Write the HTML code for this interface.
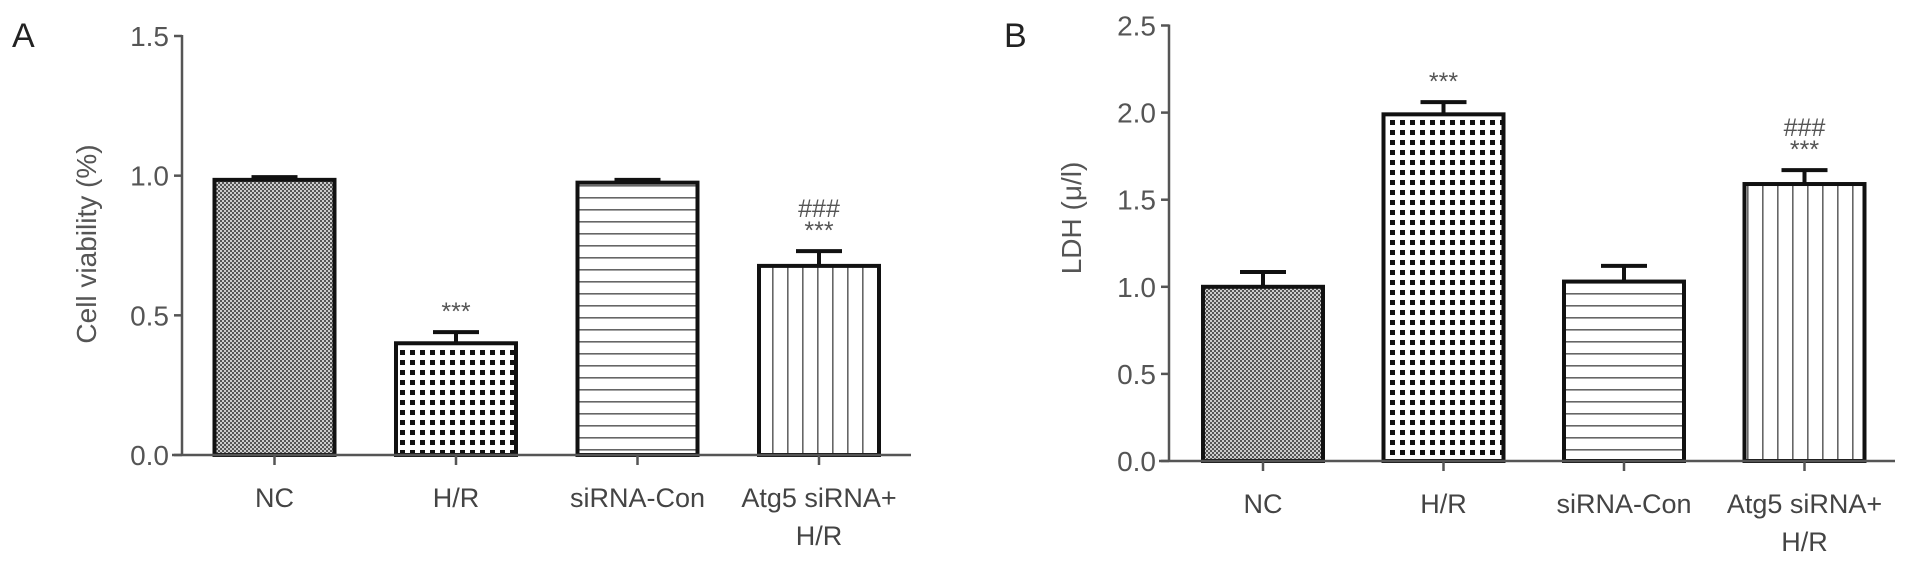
<!DOCTYPE html>
<html><head><meta charset="utf-8"><style>
html,body{margin:0;padding:0;background:#fff;}
svg{display:block;font-family:"Liberation Sans",sans-serif;}
.tick{font-size:28px;fill:#555;}
.xl{font-size:27px;fill:#444;}
.star{font-size:25px;fill:#555;}
</style></head><body>
<svg id="chart" width="1913" height="567" viewBox="0 0 1913 567">
<defs>
<pattern id="pNC" width="4" height="4" patternUnits="userSpaceOnUse"><rect width="4" height="4" fill="#ccc"/><rect width="2" height="2" fill="#555"/><rect x="2" y="2" width="2" height="2" fill="#555"/></pattern>
<pattern id="pHR" width="10" height="10" patternUnits="userSpaceOnUse"><rect width="10" height="10" fill="#fff"/><rect width="5" height="5" fill="#111"/></pattern>
<pattern id="pSI" width="10" height="12" patternUnits="userSpaceOnUse"><rect width="10" height="12" fill="#fff"/><rect y="5" width="10" height="1.6" fill="#666"/></pattern>
<pattern id="pAT" width="15" height="10" patternUnits="userSpaceOnUse"><rect width="15" height="10" fill="#fff"/><rect x="7" width="1.6" height="10" fill="#666"/></pattern>
</defs>
</svg>
<script>
const categories = ["NC","H/R","siRNA-Con","Atg5 siRNA+\nH/R"];
const viabilityValues = [0.985, 0.40, 0.975, 0.677];
const viabilityErrors = [0.01, 0.04, 0.01, 0.053];
const viabilityMarks = ["", "***", "", "###\n***"];
const viabilityTicks = ["0.0","0.5","1.0","1.5"];
const ldhValues = [1.0, 1.99, 1.03, 1.59];
const ldhErrors = [0.085, 0.07, 0.09, 0.08];
const ldhMarks = ["", "***", "", "###\n***"];
const ldhTicks = ["0.0","0.5","1.0","1.5","2.0","2.5"];

const NS = "http://www.w3.org/2000/svg";
const svg = document.getElementById('chart');
const fills = ["url(#pNC)","url(#pHR)","url(#pSI)","url(#pAT)"];
function mk(tag, attrs, parent){const e=document.createElementNS(NS,tag);for(const k in attrs)e.setAttribute(k,attrs[k]);(parent||svg).appendChild(e);return e;}

function panel(cfg){
  const g = mk('g',{});
  
  
  const y = v => cfg.y0 - (v/cfg.vmax)*(cfg.y0-cfg.ytop);
  const x = i => cfg.xc0 + i*cfg.step;
  const L = mk('text',{x:cfg.letterX,y:47,'font-size':34,fill:'#222'},g); L.textContent=cfg.letter;
  
  
  const ya = mk('line',{x1:cfg.ax,y1:cfg.ytop-1,x2:cfg.ax,y2:cfg.y0,stroke:'#555','stroke-width':2.5},g);
  
  
  cfg.ticks.forEach(t=>{
    const v=parseFloat(t), yy=y(v);
    mk('line',{x1:cfg.ax-8,y1:yy,x2:cfg.ax,y2:yy,stroke:'#555','stroke-width':2.5},g);
    const tt=mk('text',{x:cfg.ax-13,y:yy+10,'text-anchor':'end',class:'tick'},g); tt.textContent=t;
    
    
  });
  const yt = mk('text',{x:cfg.titleX,y:cfg.titleY,'text-anchor':'middle','font-size':28,fill:'#555',transform:`rotate(-90 ${cfg.titleX} ${cfg.titleY})`},g);
  yt.textContent=cfg.title;
  
  
  cfg.values.forEach((v,i)=>{
    const cx=x(i), w=cfg.bw, top=y(v), et=y(v+cfg.errors[i]);
    mk('line',{x1:cx,y1:top,x2:cx,y2:et,stroke:'#111','stroke-width':4},g);
    mk('line',{x1:cx-23,y1:et,x2:cx+23,y2:et,stroke:'#111','stroke-width':4},g);
    const b=mk('rect',{x:cx-w/2+2,y:top,width:w-4,height:cfg.y0-top,fill:fills[i],stroke:'#111','stroke-width':4},g);
    
    
    const lines=cfg.marks[i]?cfg.marks[i].split('\n'):[];
    lines.reverse().forEach((s,k)=>{
      const st=mk('text',{x:cx,y:et-12-k*22,'text-anchor':'middle',class:'star'},g); st.textContent=s;
      
      
    });
    mk('line',{x1:cx,y1:cfg.y0,x2:cx,y2:cfg.y0+10,stroke:'#555','stroke-width':2.5},g);
    categories[i].split('\n').forEach((s,k)=>{
      const t=mk('text',{x:cx,y:cfg.y0+52+k*38,'text-anchor':'middle',class:'xl'},g); t.textContent=s;
      
      
    });
  });
  const xa = mk('line',{x1:cfg.ax-10,y1:cfg.y0,x2:cfg.xend,y2:cfg.y0,stroke:'#555','stroke-width':2.5},g);
  
  
}
panel({name:'panel-a-cell-viability',letter:'A',letterX:12,ax:182,y0:455,ytop:36,vmax:1.5,xc0:274.5,step:181.5,bw:124,xend:911,
  ticks:viabilityTicks,values:viabilityValues,errors:viabilityErrors,marks:viabilityMarks,title:'Cell viability (%)',titleX:96,titleY:244});
panel({name:'panel-b-ldh',letter:'B',letterX:1004,ax:1169,y0:461,ytop:25.5,vmax:2.5,xc0:1263,step:180.5,bw:124,xend:1895,
  ticks:ldhTicks,values:ldhValues,errors:ldhErrors,marks:ldhMarks,title:'LDH (μ/l)',titleX:1081,titleY:218});
</script>
</body></html>
